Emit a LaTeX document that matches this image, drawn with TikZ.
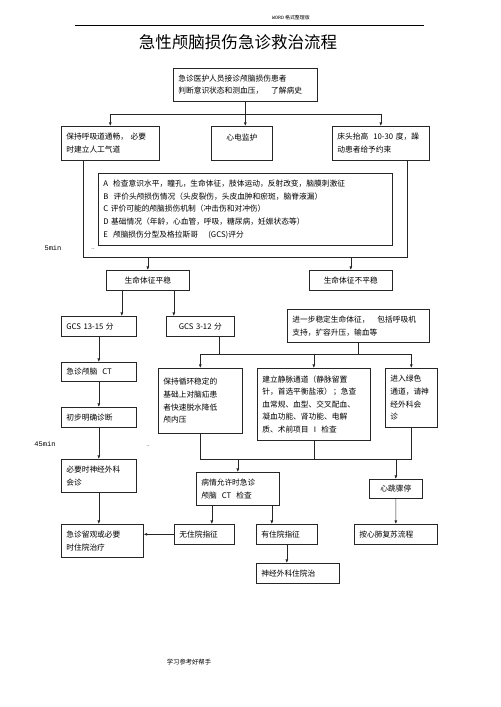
\documentclass[tikz,border=0pt]{standalone}
\usepackage{fontspec}
\setmainfont{Noto Sans CJK SC}
\newfontfamily\monofont{Liberation Mono}
\usetikzlibrary{arrows.meta}

\tikzset{
	box/.style={draw=black!85, line width=0.9pt, anchor=north west, align=left,
		inner xsep=0.25cm, inner ysep=0.05cm, font=\fontsize{11}{18}\selectfont},
	cbox/.style={box, align=center},
	link/.style={draw=black!85, line width=0.8pt},
	arr/.style={link, -{Latex[length=5pt,width=4pt]}},
}

\begin{document}
\begin{tikzpicture}[x=0.05cm, y=-0.05cm]
	\useasboundingbox (0,0) rectangle (500,707);

	% page head
	\node[font=\fontsize{7}{8}\selectfont] (head) at (291,18) {{\monofont WORD} 格式整理版};
	\draw[line width=0.9pt] (75,25) -- (424,25);
	\node[font=\fontsize{23.5}{26}\selectfont] (title) at (238,42) {急性颅脑损伤急诊救治流程};

	% first contact
	\node[box, text width=6.7cm, minimum height=1.65cm] (start) at (173,68)
		{急诊医护人员接诊颅脑损伤患者\\判断意识状态和测血压，\quad 了解病史};
	\node[box, text width=4.4cm, minimum height=1.7cm] (airway) at (61,126)
		{保持呼吸道通畅，\ 必要\\时建立人工气道};
	\node[cbox, text width=2.55cm, minimum height=1.7cm] (ecg) at (211,126) {心电监护\\~};
	\node[box, text width=4.35cm, minimum height=1.7cm] (bed) at (332,126)
		{床头抬高 \ 10-30 度，躁\\动患者给予约束};

	% assessment
	\node[box, text width=14.2cm, minimum height=3.6cm] (assess) at (98,173)
		{A \ 检查意识水平，瞳孔，生命体征，肢体运动，反射改变，脑膜刺激征\\
		 B \ 评价头颅损伤情况（头皮裂伤，头皮血肿和瘀斑，脑脊液漏）\\
		 C 评价可能的颅脑损伤机制（冲击伤和对冲伤）\\
		 D 基础情况（年龄，心血管，呼吸，糖尿病，妊娠状态等）\\
		 E \ 颅脑损伤分型及格拉斯哥 \quad (GCS)评分};
	\node[font=\monofont\fontsize{10}{12}\selectfont] (t5) at (53,248) {5min};
	\node[font=\fontsize{8}{9}\selectfont] (dots1) at (93,249) {..};

	% vital signs
	\node[cbox, text width=3.65cm, minimum height=1cm] (stable) at (106,270) {生命体征平稳};
	\node[cbox, text width=3.65cm, minimum height=1cm] (unstable) at (309,270) {生命体征不平稳};
	\node[box, text width=3.25cm, minimum height=1cm] (gcsa) at (61,316) {GCS 13-15 分};
	\node[cbox, text width=2.9cm, minimum height=1cm] (gcsb) at (166,316) {GCS 3-12 分};
	\node[box, text width=6.6cm, minimum height=1.65cm] (further) at (287,309)
		{进一步稳定生命体征，\quad 包括呼吸机\\支持，扩容升压，输血等};

	% left column
	\node[box, text width=3.25cm, minimum height=0.95cm] (ct) at (61,362) {急诊颅脑 \ CT};
	\node[box, text width=3.25cm, minimum height=1cm] (diag) at (61,407) {初步明确诊断};
	\node[font=\monofont\fontsize{10}{12}\selectfont] (t45) at (45,444) {45min};
	\node[font=\fontsize{8}{9}\selectfont] (dots2) at (148,446) {..};
	\node[box, text width=3.25cm, minimum height=1.65cm] (consult) at (61,459)
		{必要时神经外科\\会诊};
	\node[box, text width=3.6cm, minimum height=1.65cm] (observe) at (61,524)
		{急诊留观或必要\\时住院治疗};

	% measures
	\node[box, text width=3.7cm, minimum height=3.25cm] (circ) at (158,368)
		{保持循环稳定的\\基础上对脑疝患\\者快速脱水降低\\颅内压};
	\node[box, text width=5.15cm, minimum height=3.6cm] (iv) at (257,368)
		{建立静脉通道（静脉留置\\针，首选平衡盐液）\,；急查\\血常规、血型、交叉配血、\\凝血功能、肾功能、电解\\质、术前项目 \ I \ 检查};
	\node[box, text width=2.1cm, minimum height=2.95cm] (green) at (385,368)
		{进入绿色\\通道，请神\\经外科会\\诊};

	% lower part
	\node[box, text width=3.65cm, minimum height=1.65cm] (ctcheck) at (196,472)
		{病情允许时急诊\\颅脑 \ CT \ 检查};
	\node[cbox, text width=2.15cm, minimum height=0.95cm] (arrest) at (369,479) {心跳骤停};
	\node[box, text width=2.5cm, minimum height=1cm] (noadm) at (174,524) {无住院指征};
	\node[box, text width=2.55cm, minimum height=1cm] (adm) at (256,524) {有住院指征};
	\node[box, text width=3.65cm, minimum height=1cm] (cpr) at (354,524) {按心肺复苏流程};
	\node[box, text width=3.65cm, minimum height=1cm] (neuro) at (256,563) {神经外科住院治};

	% page foot
	\node[font=\fontsize{9}{10}\selectfont] (foot) at (189,662) {学习参考好帮手};

	% branches under the first box
	\coordinate (j1) at (245,114);
	\draw[arr] (start.south) -- (start.south |- ecg.north);
	\draw[link] (airway.north |- j1) -- (bed.north |- j1);
	\draw[arr] (airway.north |- j1) -- (airway.north);
	\draw[arr] (bed.north |- j1) -- (bed.north);

	% frame round the assessment
	\coordinate (lo) at (83,257);
	\coordinate (ro) at (407,257);
	\draw[link] (airway.south -| lo) -- (lo) -- (ro) -- (bed.south -| ro);
	\draw[arr] (stable.north |- lo) -- (stable.north);
	\draw[arr] (unstable.north |- ro) -- (unstable.north);

	% stable branch
	\coordinate (s1) at ([xshift=-1.3cm]stable.south);
	\coordinate (s2) at ([xshift=1.3cm]stable.south);
	\draw[arr] (s1) -- (s1 |- gcsa.north);
	\draw[arr] (s2) -- (s2 |- gcsb.north);
	\draw[arr] (gcsa) -- (ct);
	\draw[arr] (ct) -- (diag);
	\draw[arr] (diag) -- (consult);
	\draw[arr] (consult.south) -- (consult.south |- observe.north);

	% into the measures
	\coordinate (h1) at (0,354);
	\coordinate (g2) at ([xshift=0.95cm]gcsb.south);
	\draw[link] (g2) -- (g2 |- h1);
	\draw[link] (further.south) -- (further.south |- h1);
	\draw[link] (circ.north |- h1) -- (green.north |- h1);
	\draw[arr] (circ.north |- h1) -- (circ.north);
	\draw[arr] (iv.north |- h1) -- (iv.north);
	\draw[arr] (green.north |- h1) -- (green.north);

	% joining the measures
	\coordinate (h2) at (0,459);
	\draw[link] (circ.south) -- (circ.south |- h2) -- (green.south |- h2) -- (green.south);
	\draw[link] (iv.south) -- (iv.south |- h2);
	\draw[arr] (ctcheck.north |- h2) -- (ctcheck.north);
	\draw[arr] (arrest.north |- h2) -- (arrest.north);

	% after the CT
	\coordinate (c1) at ([xshift=-1.3cm]ctcheck.south);
	\coordinate (c2) at ([xshift=1.7cm]ctcheck.south);
	\draw[arr] (c1) -- (c1 |- noadm.north);
	\draw[arr] (c2) -- (c2 |- adm.north);
	\draw[arr] (noadm.west) -- (noadm.west -| observe.east);
	\draw[arr] (arrest) -- (cpr);
	\draw[arr] (adm.south) -- (adm.south |- neuro.north);

\end{tikzpicture}
\end{document}
